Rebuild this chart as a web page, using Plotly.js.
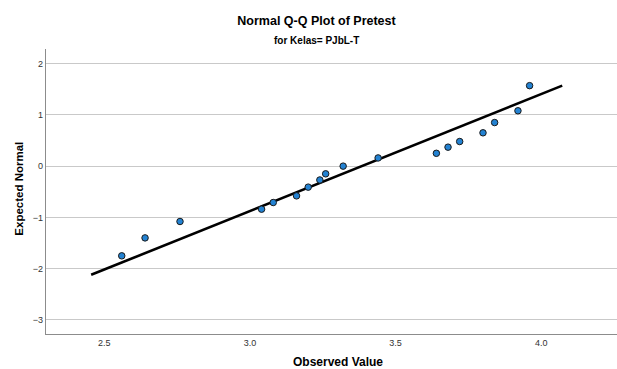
<!DOCTYPE html>
<html>
<head>
<meta charset="utf-8">
<script src="https://cdn.plot.ly/plotly-3.0.1.min.js"></script>
<style>html,body{margin:0;padding:0;background:#fff;}#chart{width:617px;height:369px;}</style>
</head>
<body>
<div id="chart"></div>
<script>
// Observed values (Pretest) and expected normal scores
const observed = [2.56, 2.64, 2.76, 3.04, 3.08, 3.16, 3.20, 3.24, 3.26, 3.32, 3.44, 3.64, 3.68, 3.72, 3.80, 3.84, 3.92, 3.96];
const expectedNormal = [-1.75, -1.40, -1.08, -0.84, -0.71, -0.58, -0.41, -0.27, -0.15, 0.00, 0.16, 0.25, 0.37, 0.48, 0.65, 0.85, 1.08, 1.57];
// Reference line endpoints
const lineX = [2.455, 4.072];
const lineY = [-2.12, 1.57];
const xTicks = [2.5, 3.0, 3.5, 4.0];
const xTickText = ['2.5', '3.0', '3.5', '4.0'];
const yTicks = [-3, -2, -1, 0, 1, 2];

const FONT = 'Liberation Sans, Arial, sans-serif';

const traces = [
  {
    x: lineX, y: lineY, type: 'scatter', mode: 'lines',
    line: {color: '#000000', width: 2.6}, hoverinfo: 'skip', showlegend: false
  },
  {
    x: observed, y: expectedNormal, type: 'scatter', mode: 'markers',
    marker: {size: 6.5, color: '#2382d2', line: {color: '#1a1a1a', width: 1}},
    showlegend: false
  }
];

const layout = {
  width: 617, height: 369,
  margin: {l: 46, r: 0, t: 49, b: 35},
  paper_bgcolor: '#ffffff', plot_bgcolor: '#ffffff',
  font: {family: FONT, size: 9, color: '#333333'},
  title: {
    text: '<b>Normal Q-Q Plot of Pretest</b>',
    font: {family: FONT, size: 12.5, color: '#000000'},
    x: 0.513, xanchor: 'center', xref: 'container', y: 0.943, yanchor: 'middle'
  },
  xaxis: {
    range: [2.30, 4.26], tickvals: xTicks, ticktext: xTickText,
    showgrid: false, zeroline: false,
    showline: true, linecolor: '#8c8c8c', linewidth: 1.2,
    ticks: '', tickfont: {family: FONT, size: 9, color: '#333333'},
    fixedrange: true
  },
  yaxis: {
    range: [-3.275, 2.285], tickvals: yTicks,
    showgrid: true, gridcolor: '#c9c9c9', gridwidth: 1,
    zeroline: false,
    showline: true, linecolor: '#8c8c8c', linewidth: 1.2,
    ticks: '', tickfont: {family: FONT, size: 9, color: '#333333'},
    fixedrange: true
  },
  annotations: [
    {
      text: '<b>for Kelas= PJbL-T</b>', xref: 'paper', yref: 'paper',
      x: 0.474, y: 1, yshift: 9, xanchor: 'center', yanchor: 'middle', showarrow: false,
      font: {family: FONT, size: 10, color: '#000000'}
    },
    {
      text: '<b>Observed Value</b>', xref: 'paper', yref: 'paper',
      x: 0.512, y: 0, yshift: -28, xanchor: 'center', yanchor: 'middle', showarrow: false,
      font: {family: FONT, size: 12, color: '#000000'}
    },
    {
      text: '<b>Expected Normal</b>', xref: 'paper', yref: 'paper',
      x: 0, xshift: -27, y: 0.51, xanchor: 'center', yanchor: 'middle', showarrow: false,
      textangle: -90,
      font: {family: FONT, size: 11.5, color: '#000000'}
    }
  ]
};

Plotly.newPlot('chart', traces, layout, {displayModeBar: false, staticPlot: true});
</script>
</body>
</html>
